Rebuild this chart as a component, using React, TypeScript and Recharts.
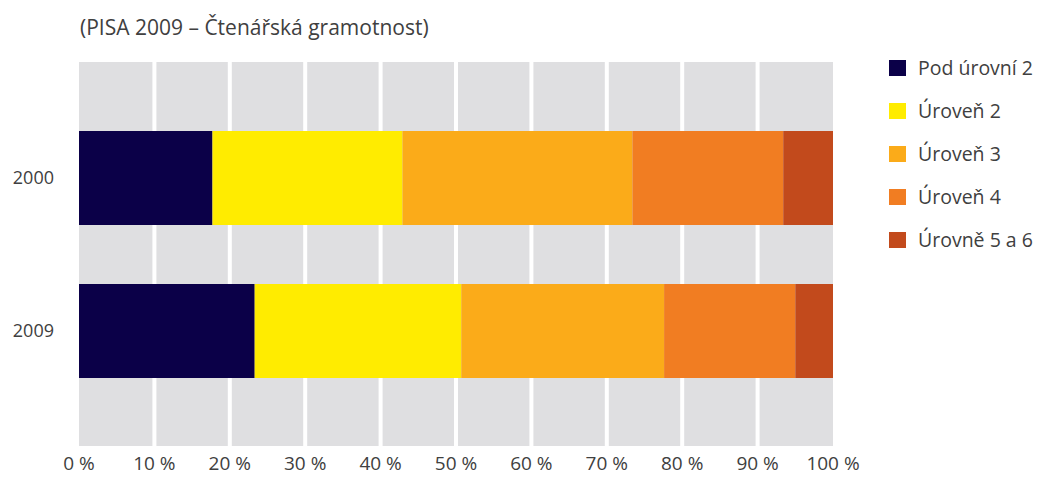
import { BarChart, Bar, XAxis, YAxis, CartesianGrid } from "recharts";

const years = ["2000", "2009"];
const levels = ["Pod úrovní 2", "Úroveň 2", "Úroveň 3", "Úroveň 4", "Úrovně 5 a 6"];
const share2000 = [17.7, 25.2, 30.5, 20.0, 6.6];
const share2009 = [23.3, 27.4, 26.9, 17.4, 5.0];
const xTicks = [0, 10, 20, 30, 40, 50, 60, 70, 80, 90, 100];

const COLORS = ["#0b0048", "#ffec00", "#fbab19", "#f17d22", "#c24a1c"];
const FONT = "'Open Sans', sans-serif";
const TEXT = "#404040";

const data = years.map((year, i) => {
  const row: Record<string, string | number> = { year };
  const values = i === 0 ? share2000 : share2009;
  levels.forEach((lvl, j) => {
    row[lvl] = values[j];
  });
  return row;
});

function LegendBox() {
  return (
    <div
      style={{
        position: "absolute",
        left: 889,
        top: 46,
        fontFamily: FONT,
        fontSize: 19.5,
        color: TEXT,
        whiteSpace: "nowrap",
      }}
    >
      {levels.map((lvl, i) => (
        <div key={lvl} style={{ display: "flex", alignItems: "center", height: 43 }}>
          <span
            style={{
              display: "inline-block",
              width: 17,
              height: 16,
              background: COLORS[i],
              marginRight: 12,
            }}
          />
          <span>{lvl}</span>
        </div>
      ))}
    </div>
  );
}

// white separators at 10..90 %, mapped onto the plot width
const gridX = ({ offset }: any) =>
  xTicks.slice(1, -1).map((v) => offset.left + (offset.width * v) / 100);

export default function App() {
  return (
    <div
      style={{
        position: "absolute",
        left: 0,
        top: 0,
        width: 1045,
        height: 489,
        background: "#fff",
        fontFamily: FONT,
      }}
    >
      <div
        style={{
          position: "absolute",
          left: 80,
          top: 13,
          fontSize: 21,
          color: TEXT,
          whiteSpace: "nowrap",
        }}
      >
        (PISA 2009 – Čtenářská gramotnost)
      </div>
      <BarChart
        width={1045}
        height={489}
        data={data}
        layout="vertical"
        margin={{ top: 62, right: 212, bottom: 13, left: 19 }}
        barCategoryGap={0}
      >
        <CartesianGrid
          horizontal={false}
          fill="#dfdfe1"
          fillOpacity={1}
          stroke="#ffffff"
          strokeWidth={4}
          verticalCoordinatesGenerator={gridX}
        />
        <XAxis
          type="number"
          domain={[0, 100]}
          ticks={xTicks}
          tickFormatter={(v) => `${v} %`}
          axisLine={false}
          tickLine={false}
          tickSize={0}
          tickMargin={11}
          height={30}
          interval={0}
          tick={{ fill: TEXT, fontSize: 19, fontFamily: FONT }}
        />
        <YAxis
          type="category"
          dataKey="year"
          width={60}
          axisLine={false}
          tickLine={false}
          tickSize={0}
          tickMargin={25}
          padding={{ top: 39, bottom: 39 }}
          tick={{ fill: TEXT, fontSize: 18, fontFamily: FONT }}
        />
        {levels.map((lvl, i) => (
          <Bar
            key={lvl}
            dataKey={lvl}
            stackId="a"
            fill={COLORS[i]}
            barSize={94}
            isAnimationActive={false}
          />
        ))}
      </BarChart>
      <LegendBox />
    </div>
  );
}
